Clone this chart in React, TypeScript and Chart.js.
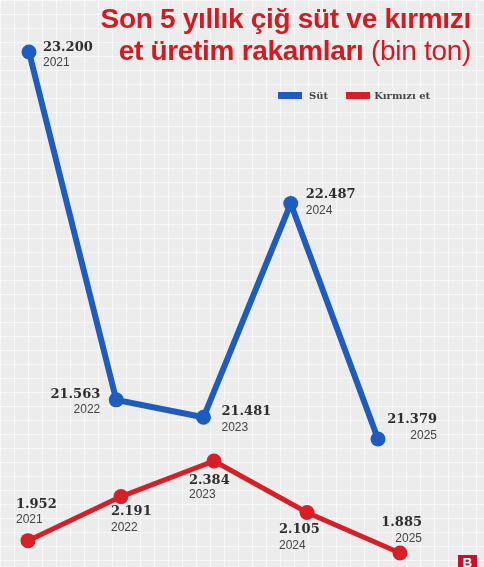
import React, { useEffect, useRef } from "react";
import { Chart, registerables } from "chart.js";

Chart.register(...registerables);

const years = ["2021", "2022", "2023", "2024", "2025"];
const milk = [23.2, 21.563, 21.481, 22.487, 21.379];
const redMeat = [1.952, 2.191, 2.384, 2.105, 1.885];
const seriesNames = ["Süt", "Kırmızı et"];

const BLUE = "#1f5cbf";
const RED = "#d81f28";

// label placement relative to each point (styling only)
const milkPlace = [
  { dx: 14, vy: -4, yy: 11, align: "left" },
  { dx: -16, vy: -5, yy: 10, align: "right" },
  { dx: 18, vy: -6, yy: 10, align: "left" },
  { dx: 15, vy: -9, yy: 7, align: "left" },
  { dx: 59, vy: -19, yy: -3, align: "right" },
];
const meatPlace = [
  { dx: -12, vy: -36, yy: -21, align: "left" },
  { dx: -10, vy: 15, yy: 31, align: "left" },
  { dx: -25, vy: 20, yy: 34, align: "left" },
  { dx: -28, vy: 17, yy: 33, align: "left" },
  { dx: 22, vy: -30, yy: -14, align: "right" },
];

const labelPlugin = {
  id: "pointLabels",
  afterDatasetsDraw(chart: any) {
    const ctx = chart.ctx;
    const places = [milkPlace, meatPlace];
    chart.data.datasets.forEach((ds: any, di: number) => {
      const meta = chart.getDatasetMeta(di);
      meta.data.forEach((pt: any, i: number) => {
        const p = places[di][i];
        const v = ds.data[i].y as number;
        ctx.save();
        ctx.textAlign = p.align;
        ctx.textBaseline = "middle";
        ctx.fillStyle = "#2e2e2e";
        ctx.font = "bold 13px 'DejaVu Serif'";
        ctx.fillText(v.toFixed(3), pt.x + p.dx, pt.y + p.vy);
        ctx.fillStyle = "#444";
        ctx.font = "12px 'Liberation Sans'";
        ctx.fillText(years[i], pt.x + p.dx, pt.y + p.yy);
        ctx.restore();
      });
    });
  },
};

export default function App() {
  const ref = useRef<HTMLCanvasElement | null>(null);
  useEffect(() => {
    if (!ref.current) return;
    const chart = new Chart(ref.current, {
      type: "line",
      data: {
        datasets: [
          {
            label: seriesNames[0],
            data: milk.map((v, i) => ({ x: i, y: v })),
            xAxisID: "xMilk",
            yAxisID: "yMilk",
            borderColor: BLUE,
            backgroundColor: BLUE,
            borderWidth: 6,
            pointRadius: 7.5,
            pointBorderWidth: 0,
            pointBackgroundColor: BLUE,
            clip: false,
          },
          {
            label: seriesNames[1],
            data: redMeat.map((v, i) => ({ x: i, y: v })),
            xAxisID: "xMeat",
            yAxisID: "yMeat",
            borderColor: RED,
            backgroundColor: RED,
            borderWidth: 5,
            pointRadius: 7.5,
            pointBorderWidth: 0,
            pointBackgroundColor: RED,
            clip: false,
          },
        ],
      },
      options: {
        animation: false,
        responsive: false,
        layout: { padding: 0, autoPadding: false },
        plugins: { legend: { display: false }, tooltip: { enabled: false }, title: { display: false } },
        scales: {
          xMilk: { type: "linear", display: false, min: -0.3324, max: 5.2149 },
          xMeat: { type: "linear", display: false, min: -0.3011, max: 4.9032 },
          yMilk: { type: "linear", display: false, min: 20.7765, max: 23.4447 },
          yMeat: { type: "linear", display: false, min: 1.8092, max: 4.884 },
        },
      },
      plugins: [labelPlugin],
    });
    return () => chart.destroy();
  }, []);

  return (
    <div
      style={{
        position: "fixed",
        left: 0,
        top: 0,
        width: 484,
        height: 567,
        overflow: "hidden",
        backgroundColor: "#ececec",
        backgroundImage:
          "linear-gradient(to right, rgba(255,255,255,0.6) 1.5px, transparent 1.5px), linear-gradient(to bottom, rgba(255,255,255,0.6) 1.5px, transparent 1.5px)",
        backgroundSize: "14px 14px",
      }}
    >
      <canvas ref={ref} width={484} height={567} style={{ position: "absolute", left: 0, top: 0 }} />
      <div
        style={{
          position: "absolute",
          right: 13,
          top: 3,
          textAlign: "right",
          color: "#d71a21",
          fontFamily: "'Liberation Sans', Arial, sans-serif",
          fontSize: 28,
          lineHeight: "32px",
          letterSpacing: "-0.3px",
          whiteSpace: "nowrap",
        }}
      >
        <div style={{ fontWeight: 700 }}>Son 5 yıllık çiğ süt ve kırmızı</div>
        <div>
          <span style={{ fontWeight: 700 }}>et üretim rakamları</span>
          <span style={{ fontWeight: 300 }}> (bin ton)</span>
        </div>
      </div>
      <div
        style={{
          position: "absolute",
          left: 278,
          top: 88,
          display: "flex",
          alignItems: "center",
          fontFamily: "'DejaVu Serif', serif",
          fontWeight: 700,
          fontSize: 10,
          color: "#444",
          height: 14,
        }}
      >
        <span style={{ display: "inline-block", width: 24, height: 7, background: BLUE }} />
        <span style={{ marginLeft: 7 }}>{seriesNames[0]}</span>
        <span style={{ display: "inline-block", width: 24, height: 7, background: RED, marginLeft: 18 }} />
        <span style={{ marginLeft: 4 }}>{seriesNames[1]}</span>
      </div>
      <div
        style={{
          position: "absolute",
          left: 458,
          top: 555,
          width: 19,
          height: 16,
          background: "#c8102e",
          color: "#fff",
          fontFamily: "'Liberation Sans', sans-serif",
          fontWeight: 700,
          fontSize: 13,
          textAlign: "center",
          lineHeight: "16px",
        }}
      >
        B
      </div>
    </div>
  );
}
